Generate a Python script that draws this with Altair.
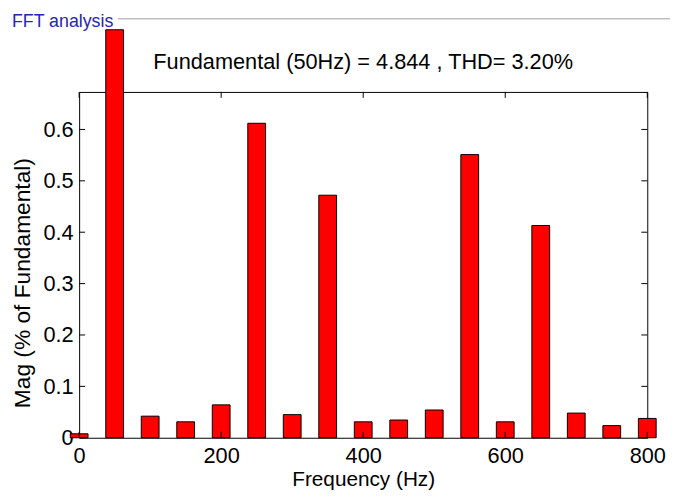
import altair as alt
import pandas as pd

# ---- data ----
freq = [0, 50, 100, 150, 200, 250, 300, 350, 400, 450, 500, 550, 600, 650, 700, 750, 800]
mag = [0.0077, 0.794, 0.042, 0.031, 0.064, 0.612, 0.045, 0.472, 0.031, 0.0345,
       0.054, 0.551, 0.031, 0.413, 0.048, 0.0236, 0.0376]
x_ticks = [0, 200, 400, 600, 800]
y_ticks = [0, 0.1, 0.2, 0.3, 0.4, 0.5, 0.6]
title_text = ["Fundamental (50Hz) = 4.844 , THD= 3.20%"]
panel_label = ["FFT analysis"]

FONT = "Liberation Sans"
W, H = 575, 350

df = pd.DataFrame({"freq": freq, "mag": mag})
xt_df = pd.DataFrame({"freq": x_ticks})
yt_df = pd.DataFrame({"mag": y_ticks})

x_scale = alt.Scale(domain=[0, 800], nice=False, zero=False, padding=0)
y_scale = alt.Scale(domain=[0, 0.673], nice=False)

x_axis = alt.Axis(values=x_ticks, tickSize=0, domain=False, grid=False,
                  labelFontSize=22, labelPadding=8, labelColor="black", labelFont=FONT,
                  labelFlush=False, labelOverlap=False,
                  title="Frequency (Hz)", titleFontSize=21, titleFontWeight="normal",
                  titleFont=FONT, titleColor="black",
                  titleBaseline="top", titleY=31)
y_axis = alt.Axis(values=y_ticks, format="~g", tickSize=0, domain=False, grid=False,
                  labelFontSize=22, labelPadding=6, labelColor="black", labelFont=FONT,
                  labelFlush=False, labelOverlap=False,
                  title="Mag (% of Fundamental)", titleFontSize=23, titleFontWeight="normal",
                  titleFont=FONT, titleColor="black",
                  titleAngle=270, titleBaseline="middle", titleAlign="center",
                  titleX=-57, titleY=193)

X = alt.X("freq:Q", scale=x_scale, axis=x_axis)
Y = alt.Y("mag:Q", scale=y_scale, axis=y_axis)

bars = alt.Chart(df).mark_bar(width=18, color="#ff0000", stroke="black",
                              strokeWidth=1, clip=False).encode(x=X, y=Y)

xt_bottom = alt.Chart(xt_df).mark_rule(color="black").encode(
    x=X, y=alt.value(H), y2=alt.value(H - 6))
xt_top = alt.Chart(xt_df).mark_rule(color="black").encode(
    x=X, y=alt.value(0), y2=alt.value(6))
yt_left = alt.Chart(yt_df).mark_rule(color="black").encode(
    y=Y, x=alt.value(0), x2=alt.value(6))
yt_right = alt.Chart(yt_df).mark_rule(color="black").encode(
    y=Y, x=alt.value(W), x2=alt.value(W - 6))

panel_line = alt.Chart(pd.DataFrame({"a": [0]})).mark_rule(color="#a0a0a0").encode(
    x=alt.value(39), x2=alt.value(600), y=alt.value(-74))
panel_dash = alt.Chart(pd.DataFrame({"a": [0]})).mark_rule(color="#a0a0a0").encode(
    x=alt.value(-75), x2=alt.value(-72), y=alt.value(-74))
panel_txt = alt.Chart(pd.DataFrame({"label": panel_label})).mark_text(
    align="left", baseline="alphabetic", font=FONT, fontSize=18, color="#2626b0").encode(
    text="label:N", x=alt.value(-68), y=alt.value(-66))
title_txt = alt.Chart(pd.DataFrame({"label": title_text})).mark_text(
    align="center", baseline="alphabetic", font=FONT, fontSize=22, color="black").encode(
    text="label:N", x=alt.value(W / 2), y=alt.value(-23))

chart = alt.layer(bars, xt_bottom, xt_top, yt_left, yt_right,
                  panel_line, panel_dash, panel_txt, title_txt).properties(
    width=W, height=H,
    autosize=alt.AutoSizeParams(type="none"),
    padding={"left": 72, "top": 82, "right": 23, "bottom": 55},
).configure(background="white").configure_view(stroke="black", strokeWidth=1)

chart.save("out.html", embed_options={"renderer": "svg", "actions": False})
